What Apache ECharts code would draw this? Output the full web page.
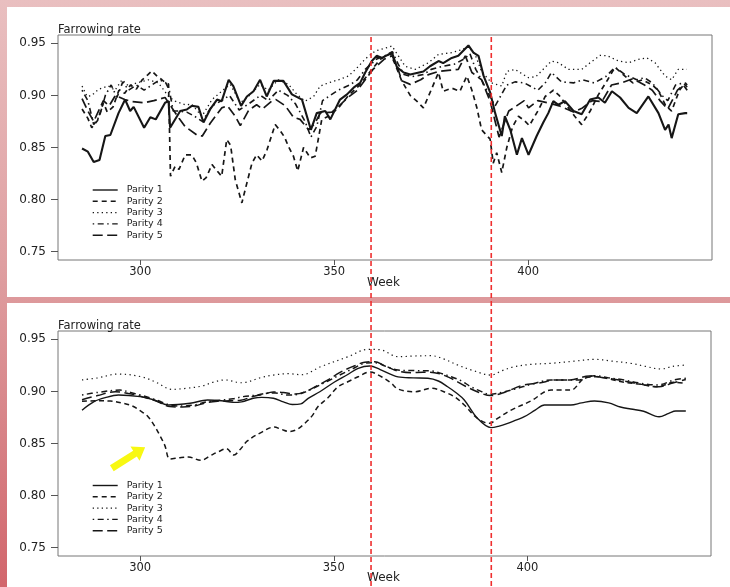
<!DOCTYPE html>
<html>
<head>
<meta charset="utf-8">
<script src="https://cdn.jsdelivr.net/npm/echarts@6.0.0/dist/echarts.min.js"></script>
<style>
  html, body { margin: 0; padding: 0; }
  body {
    width: 730px; height: 587px; overflow: hidden;
    background: linear-gradient(180deg, #e9bfc0 0%, #df9fa1 45%, #d8868a 70%, #d2666c 100%);
  }
  #chart { width: 730px; height: 587px; }
</style>
</head>
<body>
<div id="chart"></div>
<script>
// Weekly farrowing rate by parity: raw weekly series (upper panel) and smoothed (lower panel)
const parityNames = ['Parity 1', 'Parity 2', 'Parity 3', 'Parity 4', 'Parity 5'];
const weekTicks = [300, 350, 400];
const rateTicks = [0.75, 0.80, 0.85, 0.90, 0.95];
const weekRange = [278.8, 447.4];
const rateRange = [0.742, 0.958];
const markedWeeks = [359.5, 390.5];
const arrowFrom = [292.7, 0.8262];
const arrowTo = [301.3, 0.8464];

// ---- raw weekly rates [week, rate] ----
const weeklyP1 = [[285,0.849],[286.5,0.846],[288,0.836],[289.5,0.838],[291,0.861],[292.3,0.862],[294.4,0.883],[296.1,0.896],[297.4,0.885],[298.3,0.889],[301,0.869],[302.6,0.879],[304,0.877],[306.4,0.893],[307.3,0.8945],[307.7,0.869],[310.3,0.885],[312,0.8865],[313.3,0.890],[315,0.889],[316.3,0.874],[318,0.8865],[319.8,0.896],[321,0.8945],[322.8,0.915],[324,0.909],[326,0.890],[327.5,0.899],[329.2,0.904],[330.9,0.915],[332.6,0.899],[334.4,0.914],[336.9,0.914],[339.1,0.901],[341.7,0.896],[344,0.867],[345.5,0.883],[347.7,0.885],[349,0.877],[351.5,0.896],[353.3,0.901],[355,0.9074],[356.7,0.912],[358,0.922],[359.7,0.933],[361,0.938],[362.3,0.936],[364.9,0.941],[366.2,0.927],[367.9,0.922],[369.6,0.920],[373,0.923],[374.7,0.928],[376.9,0.933],[378.1,0.931],[380.3,0.936],[382,0.938],[384.6,0.948],[385.9,0.941],[387.2,0.938],[388.5,0.919],[390.2,0.903],[391.5,0.883],[393.2,0.861],[394,0.880],[395.4,0.867],[397.1,0.843],[398.4,0.859],[400.1,0.843],[402.2,0.861],[403.9,0.874],[405.2,0.883],[406.5,0.8945],[407.8,0.891],[409.5,0.8945],[411.7,0.885],[413.8,0.882],[416,0.896],[418.1,0.898],[419.8,0.893],[421.6,0.904],[423.7,0.898],[425.9,0.888],[428,0.883],[431,0.899],[433.6,0.883],[435.3,0.867],[436.2,0.872],[437,0.859],[438.7,0.882],[440.5,0.883],[441,0.883]];

const weeklyP2 = [[285,0.887],[286.5,0.878],[287.5,0.869],[289,0.876],[290.5,0.893],[291.5,0.884],[293,0.889],[294.5,0.905],[296,0.902],[297.5,0.910],[299,0.906],[300.5,0.915],[302,0.920],[303,0.9234],[304.5,0.918],[305.6,0.915],[306.6,0.912],[307.3,0.911],[307.8,0.8224],[309,0.832],[310,0.829],[311.6,0.843],[313.3,0.843],[314.5,0.835],[315.9,0.8176],[317,0.821],[318.5,0.8337],[319.7,0.828],[321,0.8224],[322.3,0.8577],[323.3,0.852],[324.5,0.819],[326.2,0.7968],[327.5,0.816],[328.8,0.835],[330,0.843],[331.4,0.837],[332.7,0.848],[334.8,0.872],[336.1,0.866],[337.2,0.860],[338.2,0.851],[339.5,0.8416],[340.6,0.8274],[342.1,0.850],[343,0.845],[343.8,0.840],[345.1,0.8416],[346,0.860],[346.8,0.877],[348.5,0.880],[351.1,0.888],[353.7,0.900],[356.3,0.909],[358.3,0.918],[359.7,0.925],[362,0.935],[364.5,0.940],[365.7,0.930],[367.4,0.914],[369.6,0.900],[371.3,0.8945],[373,0.888],[375.2,0.907],[376.9,0.922],[378.1,0.904],[380.3,0.907],[382.4,0.904],[384.2,0.9186],[385.5,0.905],[386.8,0.888],[388,0.867],[390.2,0.858],[391,0.835],[391.9,0.845],[393.2,0.826],[394.5,0.850],[396,0.870],[397.5,0.880],[399,0.876],[400.3,0.871],[402.5,0.885],[404.4,0.899],[406.5,0.905],[408,0.900],[410,0.890],[412,0.880],[413.8,0.872],[416,0.885],[418,0.900],[420.5,0.915],[422.4,0.927],[424.5,0.920],[427,0.912],[429.5,0.915],[432,0.910],[433.5,0.905],[435.5,0.890],[437,0.885],[439,0.905],[440.5,0.912],[441,0.910]];

const weeklyP3 = [[285,0.909],[286.3,0.899],[287.5,0.900],[289.3,0.906],[291.8,0.909],[293.5,0.905],[295.3,0.915],[297,0.909],[299.1,0.912],[302.1,0.915],[304.7,0.912],[307.3,0.899],[309,0.8945],[311.6,0.891],[313.3,0.8915],[315.9,0.880],[318.5,0.896],[321,0.904],[323.2,0.9106],[325.8,0.893],[327.9,0.899],[330.9,0.9106],[333,0.905],[335.6,0.915],[338.2,0.9106],[340.4,0.901],[342.5,0.8945],[344.7,0.899],[346.4,0.909],[348.5,0.912],[351.1,0.915],[353.7,0.9186],[356.3,0.928],[358,0.935],[360.6,0.9426],[364.9,0.9474],[366.2,0.940],[368.3,0.928],[370.9,0.925],[374.3,0.9314],[376.9,0.9394],[380.3,0.941],[382.9,0.944],[384.6,0.947],[386.3,0.9394],[388,0.923],[390.6,0.912],[393.2,0.909],[394.5,0.923],[396.6,0.925],[400.1,0.917],[402,0.918],[406,0.933],[407.8,0.9314],[410.4,0.925],[413.8,0.925],[416,0.9314],[418.6,0.9385],[420.5,0.938],[423.3,0.933],[425.9,0.9314],[428.4,0.9346],[430.6,0.936],[432.7,0.9314],[435.3,0.9186],[437,0.915],[438.7,0.925],[440.9,0.925]];

const weeklyP4 = [[285,0.905],[286.5,0.895],[288,0.872],[289.5,0.880],[291,0.900],[292.5,0.910],[294,0.898],[295.5,0.913],[297,0.905],[299,0.910],[301,0.905],[303,0.910],[305,0.915],[306.6,0.912],[307.5,0.905],[308.5,0.885],[310,0.885],[312,0.884],[314,0.880],[316,0.875],[318.5,0.890],[321,0.895],[323,0.900],[325.5,0.886],[328,0.892],[331,0.900],[333,0.895],[335.6,0.905],[338,0.900],[340,0.892],[342.5,0.875],[344,0.860],[345.5,0.870],[347,0.895],[349,0.900],[351,0.905],[354,0.910],[356,0.915],[358,0.925],[361,0.935],[363,0.938],[365,0.942],[366.5,0.930],[368,0.920],[370,0.918],[373,0.920],[375,0.925],[378,0.928],[381,0.930],[383.5,0.935],[385,0.940],[386.5,0.925],[388,0.915],[390,0.900],[391.5,0.890],[393,0.900],[394.5,0.910],[396.6,0.913],[399,0.912],[402.5,0.905],[404.4,0.912],[406,0.922],[408.6,0.913],[411.7,0.912],[414,0.915],[417,0.912],[420,0.918],[422.4,0.927],[425,0.920],[428,0.915],[430,0.917],[432,0.912],[434.5,0.900],[436,0.895],[438,0.910],[440,0.912],[441,0.908]];

const weeklyP5 = [[285,0.897],[286.5,0.885],[288,0.875],[290.5,0.895],[292,0.890],[293.6,0.900],[296,0.896],[298,0.894],[301,0.893],[303.5,0.895],[306.4,0.898],[308.2,0.888],[310,0.878],[311.6,0.870],[314.6,0.862],[316,0.861],[318,0.873],[321,0.888],[322.5,0.890],[324.5,0.880],[325.8,0.871],[328,0.886],[330,0.891],[331.5,0.887],[333.9,0.8945],[335,0.896],[337.4,0.890],[339.5,0.879],[341.2,0.877],[343.4,0.867],[345,0.873],[346.4,0.883],[349.4,0.884],[351,0.889],[353.5,0.898],[356,0.905],[358,0.915],[360,0.925],[361.5,0.930],[363,0.935],[365,0.938],[366.5,0.925],[367.4,0.914],[369.6,0.9106],[372.3,0.915],[374.3,0.920],[376.9,0.923],[379.4,0.924],[382,0.925],[383.8,0.938],[385.5,0.922],[388,0.915],[390.2,0.8945],[391.5,0.875],[392.5,0.860],[393.5,0.870],[395,0.885],[397,0.890],[399,0.895],[400.1,0.888],[402.5,0.895],[405,0.893],[408,0.890],[411.7,0.884],[414,0.888],[416.5,0.895],[419,0.894],[421.5,0.910],[424,0.912],[427,0.916],[430,0.910],[432,0.905],[434,0.895],[436,0.887],[438.5,0.905],[440,0.910],[441,0.905]];

// ---- smoothed rates [week, rate] ----
const smoothP1 = [[285,0.882],[288,0.890],[291,0.894],[294.4,0.8965],[300,0.895],[303.5,0.892],[307.3,0.887],[312.9,0.8886],[317.4,0.8917],[321,0.891],[324,0.8895],[326.2,0.890],[329.2,0.8934],[331.4,0.8943],[334.4,0.8934],[337,0.890],[339.3,0.8875],[341.5,0.888],[343.4,0.8934],[346.4,0.8997],[350.3,0.9093],[353.5,0.916],[356.3,0.9222],[359.3,0.9244],[362,0.921],[366.6,0.914],[370.5,0.913],[374.3,0.9126],[377,0.910],[379.4,0.9045],[381.5,0.899],[383.7,0.8918],[387.1,0.8742],[390.6,0.8652],[392.5,0.8665],[394.9,0.8694],[399.2,0.8757],[402,0.882],[404.4,0.887],[408,0.887],[411.2,0.887],[414,0.889],[417.3,0.8908],[421,0.889],[424,0.885],[426.7,0.8831],[430,0.881],[434,0.8757],[436.5,0.879],[438.3,0.8812],[440.9,0.8812]];

const smoothP2 = [[285,0.8905],[289,0.891],[292.3,0.8908],[295.7,0.8886],[298,0.886],[300.2,0.881],[302,0.876],[303.7,0.867],[305.2,0.857],[306.4,0.848],[307.7,0.8352],[310.3,0.8364],[312.5,0.837],[315.7,0.8338],[318,0.838],[320.2,0.8421],[322.3,0.845],[324.2,0.839],[326,0.845],[327.7,0.8525],[331.2,0.8605],[334.6,0.8658],[336.5,0.8635],[338.5,0.8615],[340.5,0.8635],[342.3,0.8686],[344.5,0.877],[345.9,0.8853],[348.5,0.894],[351.1,0.9045],[353.5,0.909],[356.3,0.9141],[359.3,0.9186],[362.3,0.9141],[364.8,0.908],[366.6,0.9023],[370.9,0.8997],[375.2,0.903],[379.4,0.8982],[381.5,0.894],[383.7,0.887],[387.1,0.8742],[390.2,0.8694],[392.3,0.8742],[395.8,0.8821],[400.9,0.8908],[406.1,0.9013],[411.2,0.9013],[414.7,0.9126],[418.1,0.9141],[421,0.912],[425,0.9087],[429,0.907],[433.6,0.9045],[437.9,0.9087],[440.9,0.9078]];

const smoothP3 = [[285,0.911],[289,0.913],[294.4,0.9167],[300.4,0.914],[304,0.909],[308.2,0.902],[312,0.903],[316,0.9052],[319,0.909],[321.9,0.911],[326.2,0.9083],[331.4,0.9135],[334.4,0.9157],[338.2,0.917],[341.7,0.916],[346.8,0.924],[353.7,0.9333],[358.8,0.9404],[362,0.940],[366.6,0.9333],[371,0.934],[375.2,0.9343],[378.5,0.931],[382,0.9253],[386,0.920],[390.6,0.9157],[393.5,0.920],[396.6,0.9237],[401,0.926],[406.1,0.927],[412,0.929],[417.3,0.9308],[422,0.929],[426.7,0.927],[430.5,0.924],[434.5,0.9215],[437.5,0.924],[440.9,0.9253]];

const smoothP4 = [[285,0.8966],[289,0.899],[294.8,0.9013],[297.5,0.899],[300,0.8966],[304,0.892],[307.7,0.887],[311,0.886],[314,0.887],[317.2,0.890],[321,0.8917],[324,0.893],[326.6,0.895],[330,0.8965],[332.6,0.8982],[335,0.8985],[337.8,0.8966],[340.5,0.897],[343,0.900],[345.5,0.9045],[348.5,0.910],[351.5,0.9157],[355,0.922],[358,0.927],[360.6,0.9276],[363.5,0.924],[366.6,0.9205],[371,0.920],[375.2,0.9196],[378,0.917],[380.3,0.9141],[383,0.910],[385.4,0.9045],[388,0.900],[390.2,0.8972],[394.1,0.8997],[397.5,0.903],[400.9,0.9068],[406.1,0.911],[409.5,0.911],[413,0.911],[417.3,0.9151],[421,0.913],[425,0.911],[429,0.908],[433.6,0.9061],[437.9,0.911],[440.9,0.9126]];

const smoothP5 = [[285,0.892],[289,0.896],[293.6,0.8997],[297,0.898],[300,0.8955],[304,0.891],[307.7,0.8855],[311,0.885],[314,0.886],[317,0.889],[320,0.8905],[323,0.891],[326,0.8915],[329,0.895],[331.5,0.897],[334.4,0.8995],[337,0.899],[340,0.8975],[342.5,0.8995],[345.5,0.905],[348.5,0.911],[351.5,0.918],[355,0.924],[358,0.928],[360.6,0.9285],[363,0.925],[366.6,0.9195],[370,0.918],[373,0.9185],[376,0.918],[380,0.913],[384,0.905],[387.5,0.899],[390.5,0.896],[394,0.899],[398.8,0.906],[403,0.908],[407.4,0.911],[411,0.911],[416,0.9148],[420,0.913],[424.6,0.9103],[429,0.907],[434,0.9045],[437.5,0.908],[440.9,0.9115]];

const weeklySeries = [weeklyP1, weeklyP2, weeklyP3, weeklyP4, weeklyP5];
const smoothSeries = [smoothP1, smoothP2, smoothP3, smoothP4, smoothP5];

// ---- styling ----
const FONT = 'DejaVu Sans';
const INK = '#161616';
const TEXT = '#222';
const dashTop = ['solid', [5, 4], [1.3, 3.2], [1.5, 3.5, 6, 3.5], [10, 4.5]];
const widthTop = [2.1, 1.7, 1.3, 1.6, 1.7];
const dashBottom = ['solid', [5, 3.5], [1.3, 3.5], [1.5, 3.5, 6, 3.5], [10, 4.5]];
const widthBottom = [1.4, 1.5, 1.2, 1.5, 1.5];

const panels = [
  { left: 58, top: 35, width: 654, height: 225 },
  { left: 58, top: 331, width: 653, height: 225 }
];

function makeX(i) {
  return {
    type: 'value', gridIndex: i, min: weekRange[0], max: weekRange[1],
    axisLine: { show: false }, splitLine: { show: false },
    axisTick: { show: true, length: 5, customValues: weekTicks, lineStyle: { color: '#555', width: 1 } },
    axisLabel: { customValues: weekTicks, margin: 6, fontFamily: FONT, fontSize: 11.5, color: TEXT }
  };
}
function makeY(i) {
  return {
    type: 'value', gridIndex: i, min: rateRange[0], max: rateRange[1],
    axisLine: { show: false }, splitLine: { show: false },
    axisTick: { show: true, length: 7, customValues: rateTicks, lineStyle: { color: '#555', width: 1 } },
    axisLabel: { customValues: rateTicks, margin: 12, fontFamily: FONT, fontSize: 12, color: TEXT,
      formatter: v => v.toFixed(2) }
  };
}

const series = [];
weeklySeries.forEach((d, k) => series.push({
  type: 'line', name: parityNames[k], xAxisIndex: 0, yAxisIndex: 0, data: d,
  symbol: 'none', smooth: false, z: 3 + (k === 0 ? 1 : 0),
  itemStyle: { color: INK },
  lineStyle: { color: INK, width: widthTop[k], type: dashTop[k] }
}));
smoothSeries.forEach((d, k) => series.push({
  type: 'line', name: parityNames[k], xAxisIndex: 1, yAxisIndex: 1, data: d,
  symbol: 'none', smooth: 0.35, z: 3,
  itemStyle: { color: INK },
  lineStyle: { color: INK, width: widthBottom[k], type: dashBottom[k] }
}));

function legendAt(top) {
  return {
    data: parityNames, orient: 'vertical', left: 92, top: top, padding: 0,
    itemWidth: 25, itemHeight: 11, itemGap: 0.3, selectedMode: false,
    itemStyle: { opacity: 0 },
    lineStyle: { width: 1.4 },
    textStyle: { fontFamily: FONT, fontSize: 9.5, color: TEXT, lineHeight: 11, padding: [0, 0, 0, 4] }
  };
}

const titleStyle = { fontFamily: FONT, fontSize: 11.5, fontWeight: 'normal', color: TEXT };
const chart = echarts.init(document.getElementById('chart'), null, { renderer: 'canvas' });

chart.setOption({
  animation: false,
  backgroundColor: 'transparent',
  title: [
    { text: 'Farrowing rate', left: 58, top: 24, padding: 0, textStyle: titleStyle },
    { text: 'Week', left: 367, top: 277, padding: 0, textStyle: Object.assign({}, titleStyle, { fontSize: 12 }) },
    { text: 'Farrowing rate', left: 58, top: 320, padding: 0, textStyle: titleStyle },
    { text: 'Week', left: 367, top: 572, padding: 0, textStyle: Object.assign({}, titleStyle, { fontSize: 12 }) }
  ],
  legend: [legendAt(184.5), legendAt(480)],
  grid: panels.map(p => Object.assign({ show: true, borderColor: '#777', borderWidth: 1, containLabel: false }, p)),
  xAxis: [makeX(0), makeX(1)],
  yAxis: [makeY(0), makeY(1)],
  series: series
});

// White panels, reference week lines and the pointer arrow, positioned through the axes
const gfx = [
  { type: 'rect', z: -10, silent: true, shape: { x: 7, y: 7, width: 723, height: 290 }, style: { fill: '#ffffff' } },
  { type: 'rect', z: -10, silent: true, shape: { x: 7, y: 303, width: 723, height: 284 }, style: { fill: '#ffffff' } }
];
markedWeeks.forEach(w => {
  const x = chart.convertToPixel({ xAxisIndex: 0 }, w);
  gfx.push({
    type: 'line', z: 20, silent: true,
    shape: { x1: x, y1: panels[0].top + 2, x2: x, y2: 587 },
    style: { stroke: '#ef2f2f', lineWidth: 1.6, lineDash: [5, 3] }
  });
});
(function () {
  const a = chart.convertToPixel({ xAxisIndex: 1, yAxisIndex: 1 }, arrowFrom);
  const b = chart.convertToPixel({ xAxisIndex: 1, yAxisIndex: 1 }, arrowTo);
  const dx = b[0] - a[0], dy = b[1] - a[1];
  const len = Math.hypot(dx, dy);
  const ux = dx / len, uy = dy / len, nx = -uy, ny = ux;
  const shaft = 7, head = 17, headLen = 12;
  const neck = [b[0] - ux * headLen, b[1] - uy * headLen];
  const pts = [
    [a[0] + nx * shaft / 2, a[1] + ny * shaft / 2],
    [neck[0] + nx * shaft / 2, neck[1] + ny * shaft / 2],
    [neck[0] + nx * head / 2, neck[1] + ny * head / 2],
    [b[0], b[1]],
    [neck[0] - nx * head / 2, neck[1] - ny * head / 2],
    [neck[0] - nx * shaft / 2, neck[1] - ny * shaft / 2],
    [a[0] - nx * shaft / 2, a[1] - ny * shaft / 2]
  ];
  gfx.push({ type: 'polygon', z: 20, silent: true, shape: { points: pts }, style: { fill: '#f8f812' } });
})();
chart.setOption({ graphic: gfx });
</script>
</body>
</html>
